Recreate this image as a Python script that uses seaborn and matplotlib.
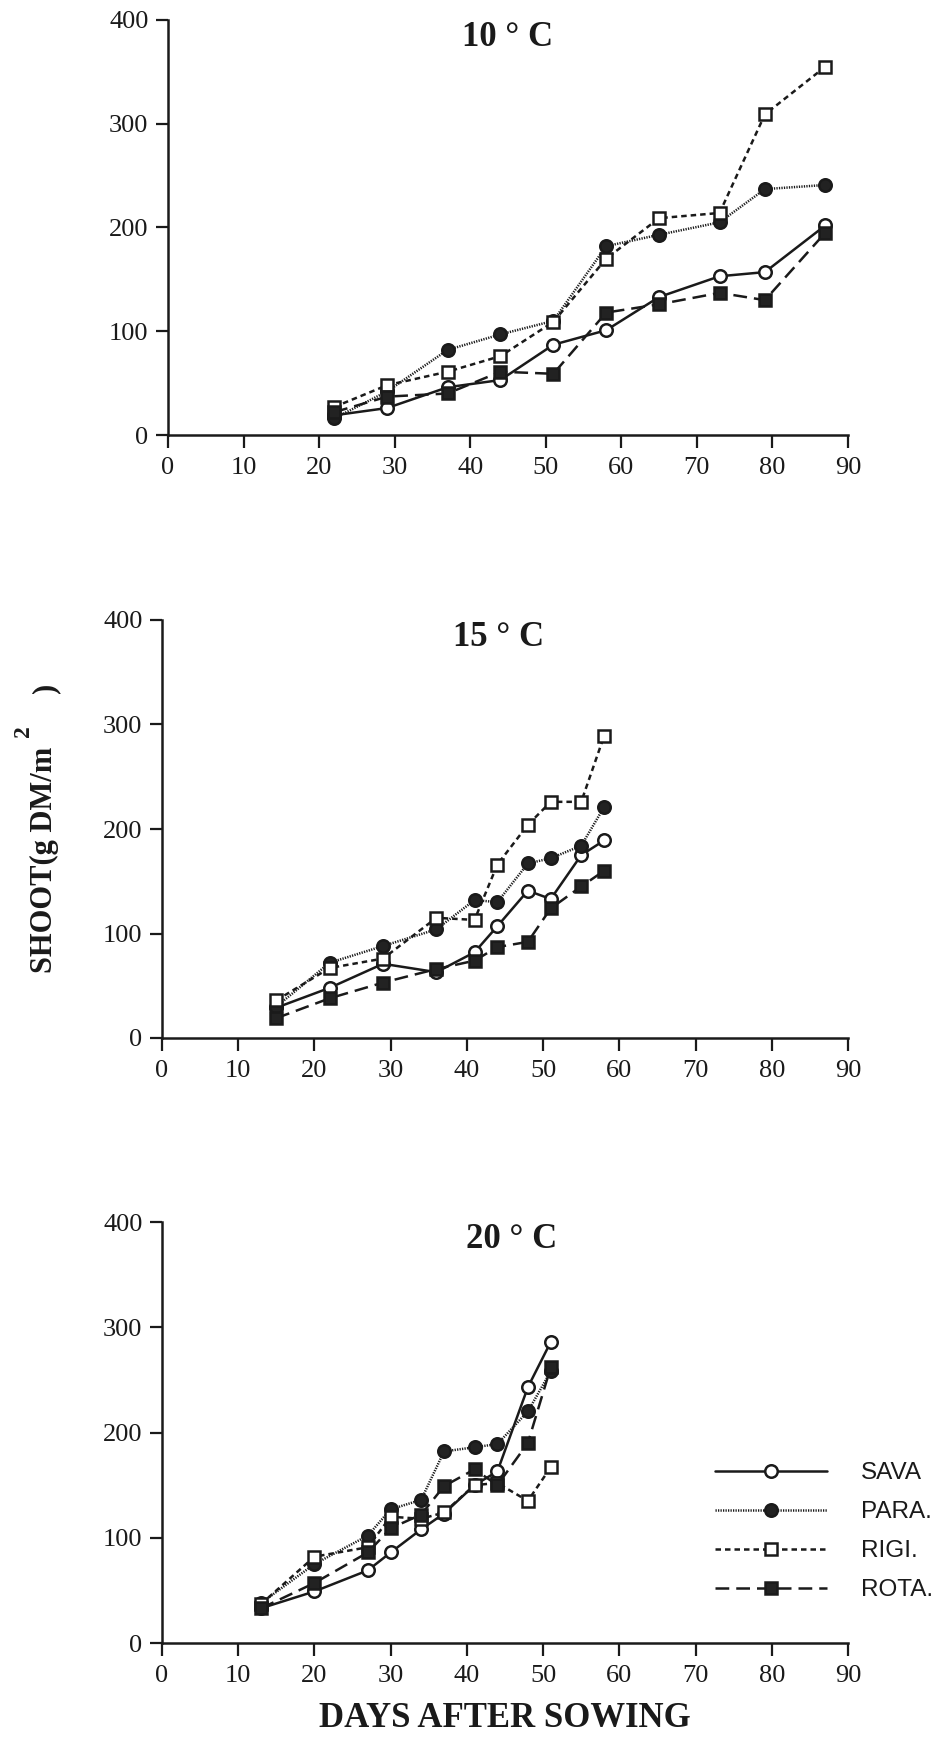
import numpy as np
import pandas as pd
import seaborn as sns
import matplotlib
matplotlib.use("Agg")
import matplotlib.pyplot as plt
from matplotlib.lines import Line2D

# ---- data: shoot dry matter (g DM/m2) against days after sowing ----
varieties = ["SAVA", "PARA.", "RIGI.", "ROTA."]

days_10 = [22, 29, 37, 44, 51, 58, 65, 73, 79, 87]
sava_10 = [19, 26, 46, 53, 87, 101, 133, 153, 157, 202]
para_10 = [16, 42, 82, 97, 110, 182, 193, 205, 237, 241]
rigi_10 = [27, 48, 61, 76, 109, 170, 209, 214, 309, 355]
rota_10 = [22, 37, 40, 61, 59, 118, 126, 137, 130, 195]

days_15 = [15, 22, 29, 36, 41, 44, 48, 51, 55, 58]
sava_15 = [29, 48, 71, 63, 82, 107, 141, 133, 175, 189]
para_15 = [30, 72, 88, 104, 132, 130, 167, 172, 184, 221]
rigi_15 = [36, 67, 76, 115, 113, 166, 204, 226, 226, 289]
rota_15 = [19, 38, 53, 66, 74, 87, 92, 124, 145, 160]

days_20 = [13, 20, 27, 30, 34, 37, 41, 44, 48, 51]
sava_20 = [33, 49, 69, 86, 108, 123, 150, 163, 243, 286]
para_20 = [38, 75, 102, 127, 136, 182, 186, 189, 220, 258]
rigi_20 = [37, 82, 91, 120, 118, 124, 150, 152, 135, 167]
rota_20 = [33, 57, 86, 109, 122, 149, 165, 150, 190, 262]

panel_titles = ["10 \u00b0 C", "15 \u00b0 C", "20 \u00b0 C"]
x_ticks = [0, 10, 20, 30, 40, 50, 60, 70, 80, 90]
y_ticks = [0, 100, 200, 300, 400]

panels = [
    (days_10, [sava_10, para_10, rigi_10, rota_10]),
    (days_15, [sava_15, para_15, rigi_15, rota_15]),
    (days_20, [sava_20, para_20, rigi_20, rota_20]),
]

# line / marker style per variety
styles = {
    "SAVA":  dict(linestyle="-", marker="o", markerfacecolor="white"),
    "PARA.": dict(linestyle=(0, (0.5, 0.5)), marker="o", markerfacecolor="#222222"),
    "RIGI.": dict(linestyle=(0, (2.2, 1.6)), marker="s", markerfacecolor="white"),
    "ROTA.": dict(linestyle=(0, (5.5, 2.8)), marker="s", markerfacecolor="#222222"),
}

sns.set_theme(style="ticks")
plt.rcParams["font.family"] = ["Liberation Serif", "DejaVu Serif"]

fig = plt.figure(figsize=(9.33, 17.42), dpi=100)
W, H = 933, 1742
# axes rectangles in pixels: left, top(400), right(90), bottom(0)
rects = [(168, 20, 848, 435), (162, 620, 848, 1038), (162, 1222, 848, 1643)]
title_pos = [(0.50, 0.958), (0.49, 0.958), (0.51, 0.958)]

line_kw = dict(color="#1a1a1a", linewidth=1.8, markersize=9,
               markeredgecolor="#1a1a1a", markeredgewidth=1.8)

for (days, series), (l, t, r, b), title, (tx, ty) in zip(panels, rects, panel_titles, title_pos):
    ax = fig.add_axes([l / W, 1 - b / H, (r - l) / W, (b - t) / H])
    for name, vals in zip(varieties, series):
        df = pd.DataFrame({"day": days, "shoot": vals})
        sns.lineplot(data=df, x="day", y="shoot", ax=ax, sort=False,
                     **styles[name], **line_kw)
    ax.set_xlim(0, 90)
    ax.set_ylim(0, 400)
    ax.set_xticks(x_ticks)
    ax.set_yticks(y_ticks)
    ax.set_xlabel("")
    ax.set_ylabel("")
    for side in ("top", "right"):
        ax.spines[side].set_visible(False)
    for side in ("left", "bottom"):
        ax.spines[side].set_linewidth(1.8)
        ax.spines[side].set_color("#1a1a1a")
    ax.tick_params(axis="both", direction="out", length=9, width=1.6,
                   colors="#1a1a1a", labelsize=19)
    ax.tick_params(axis="x", pad=7)
    ax.tick_params(axis="y", pad=5)
    ax.text(tx, ty, title, transform=ax.transAxes, ha="center", va="center",
            fontsize=25, fontweight="bold", color="#1a1a1a")

# shared axis titles
fig.text(44 / W, 1 - 860 / H, "SHOOT(g DM/m", rotation=90, ha="center", va="center",
         fontsize=22, fontweight="bold", color="#1a1a1a")
fig.text(24 / W, 1 - 731 / H, "2", rotation=90, ha="center", va="center",
         fontsize=17, fontweight="bold", color="#1a1a1a")
fig.text(46 / W, 1 - 688 / H, ")", rotation=90, ha="center", va="center",
         fontsize=22, fontweight="bold", color="#1a1a1a")
fig.text(505 / W, 1 - 1718 / H, "DAYS AFTER SOWING", ha="center", va="center",
         fontsize=25, fontweight="bold", color="#1a1a1a")

# legend
handles = [Line2D([], [], **styles[n], **line_kw) for n in varieties]
leg = fig.legend(handles, varieties, loc="upper left",
                 bbox_to_anchor=(715 / W, 1 - 1462 / H), frameon=False,
                 handlelength=4.6, handletextpad=1.4, labelspacing=0.7,
                 borderpad=0, borderaxespad=0, numpoints=1,
                 prop={"family": ["Liberation Sans", "DejaVu Sans"], "size": 17.5})
for txt in leg.get_texts():
    txt.set_color("#1a1a1a")

fig.savefig("out.png", dpi=100)
